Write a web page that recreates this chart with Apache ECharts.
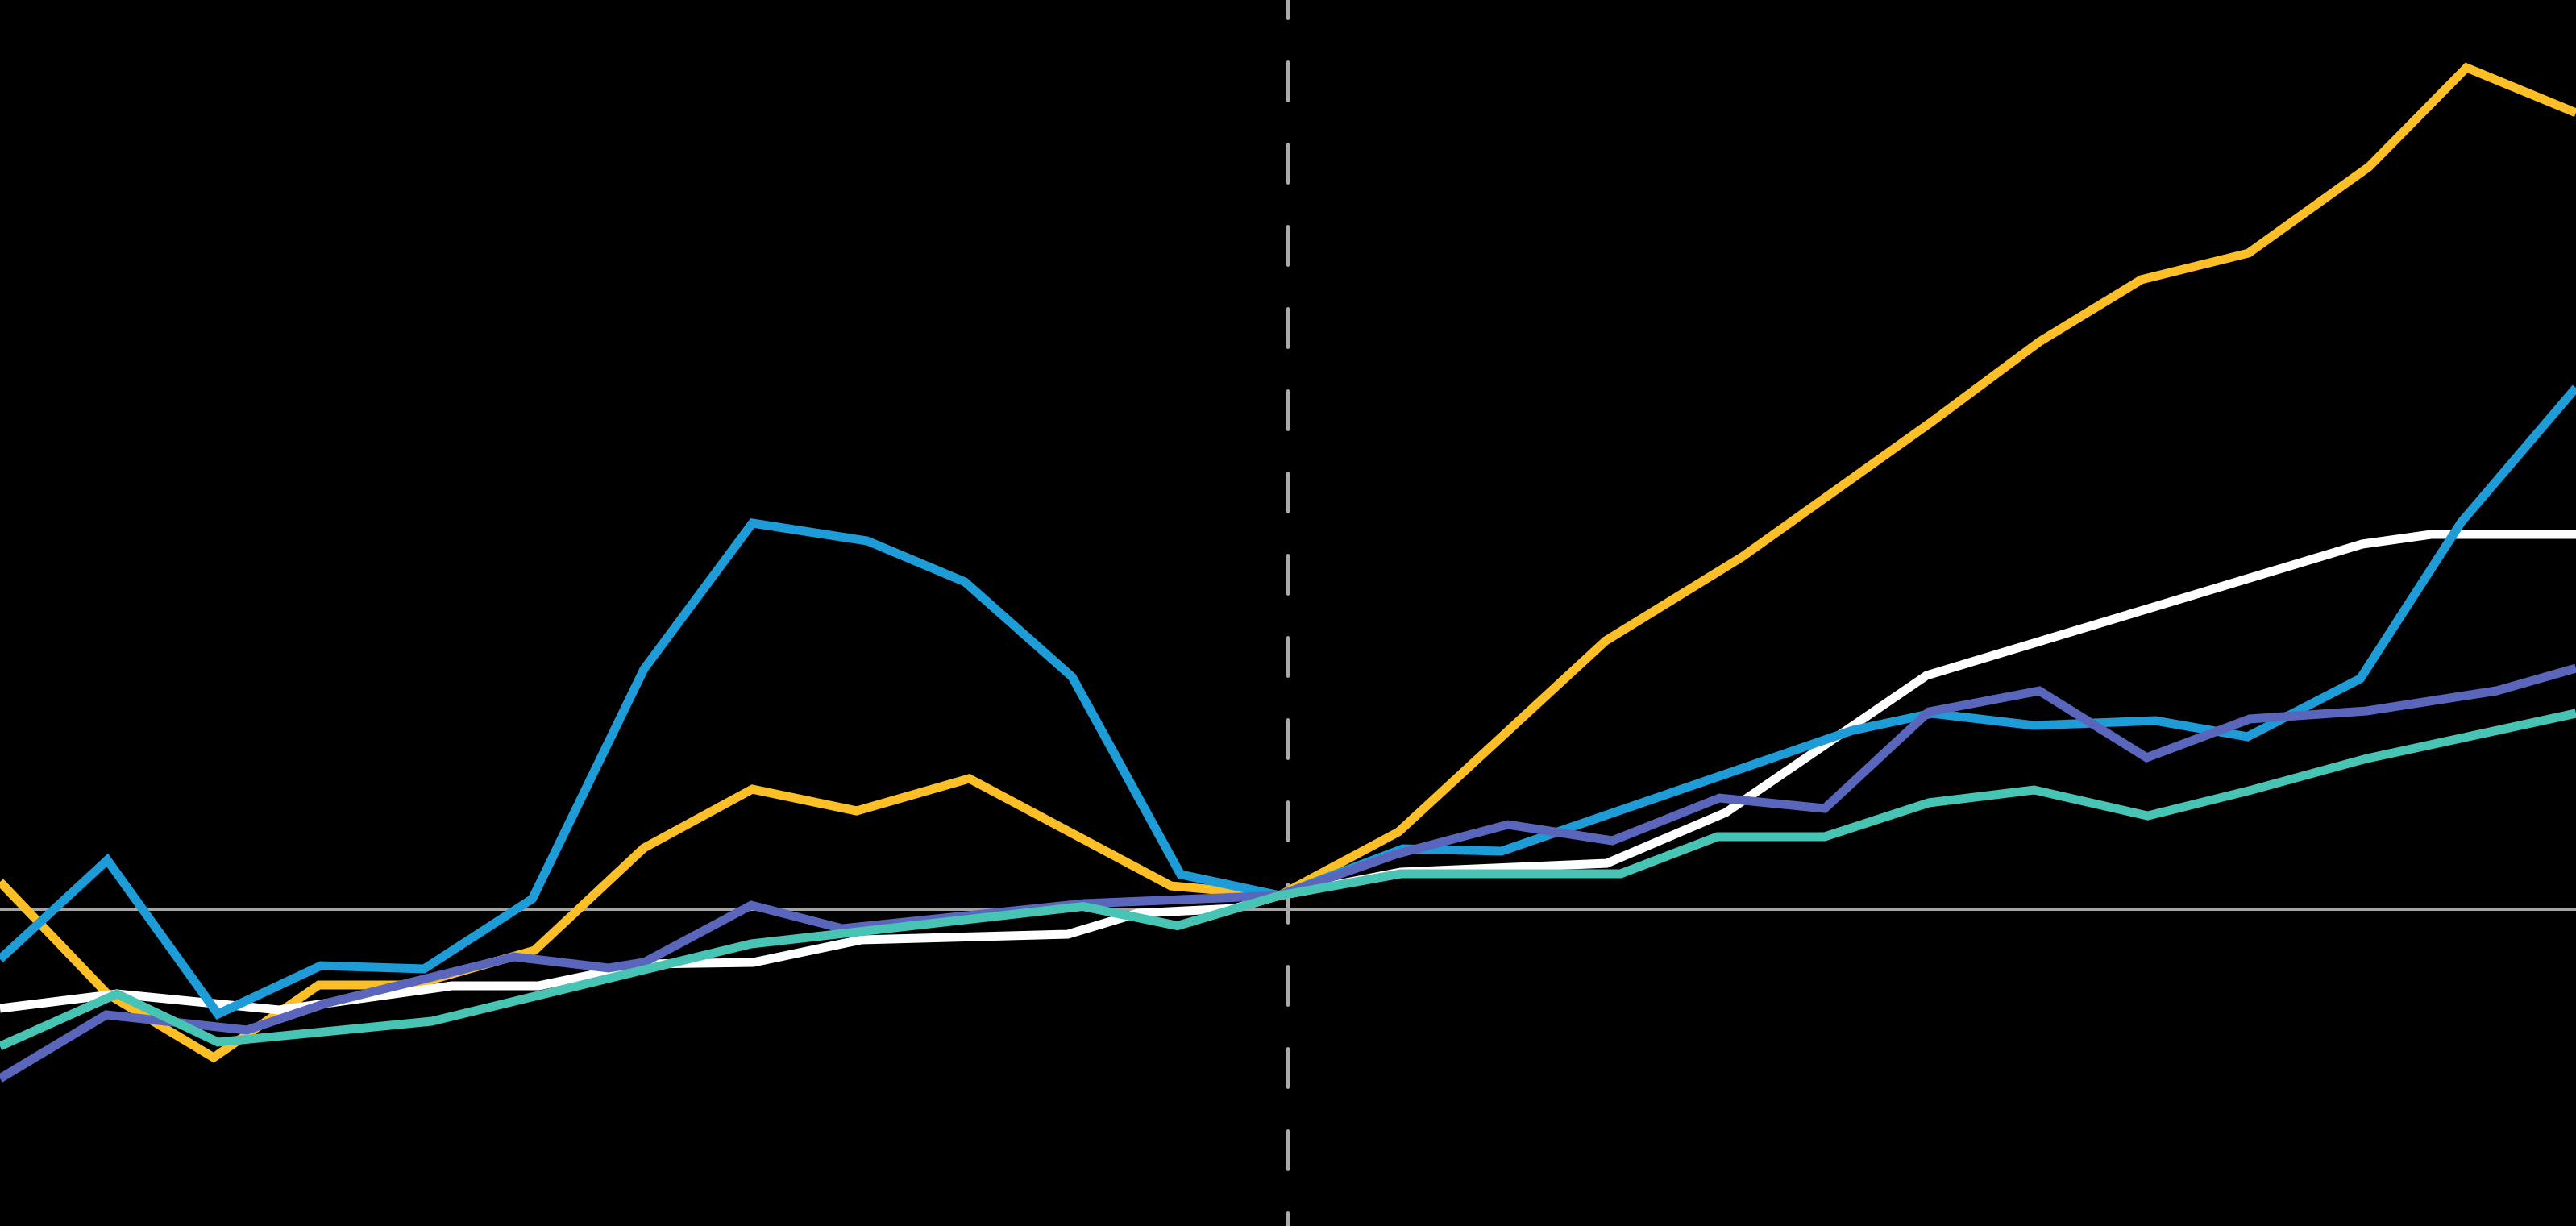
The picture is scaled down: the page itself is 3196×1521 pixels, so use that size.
<!DOCTYPE html>
<html>
<head>
<meta charset="utf-8">
<script src="https://cdn.jsdelivr.net/npm/echarts@6/dist/echarts.min.js"></script>
<style>
html,body{margin:0;padding:0;background:#000;}
#chart{width:3196px;height:1521px;}
</style>
</head>
<body>
<div id="chart"></div>
<script>
// x = months relative to the reference date (0 = dashed line)
var yellowX = [-12, -11.0, -10.01, -9.03, -8.15, -7.02, -6.0, -4.99, -4.02, -2.97, -1.09, -0.08, 1.03, 2.96, 4.23, 6.0, 7.0, 7.95, 8.95, 10.07, 10.98, 12];
var yellowY = [3.4, -10.5, -18.4, -9.4, -9.4, -5.1, 7.6, 14.9, 12.2, 16.2, 2.9, 1.7, 9.6, 33.3, 43.7, 60.5, 70.4, 78.1, 81.4, 92.1, 104.4, 98.8];

var whiteX = [-12, -10.91, -9.4, -7.79, -6.98, -6.0, -4.98, -3.98, -2.05, -1.4, -0.5, -0.08, 1.05, 2.97, 4.08, 5.95, 10.01, 10.65, 12];
var whiteY = [-12.3, -10.5, -12.5, -9.5, -9.5, -6.8, -6.6, -3.8, -3.1, -0.5, 0.1, 1.7, 4.6, 5.7, 12.0, 29.0, 45.3, 46.5, 46.5];

var blueX = [-12, -11.0, -9.97, -9.01, -8.05, -7.04, -6.0, -4.99, -3.92, -3.01, -2.01, -1.0, -0.08, 1.07, 1.99, 5.26, 6.0, 6.95, 8.08, 8.94, 9.99, 10.93, 12];
var blueY = [-6.2, 6.1, -13.0, -7.0, -7.4, 1.3, 29.8, 47.9, 45.7, 40.6, 28.8, 4.3, 1.7, 7.5, 7.2, 22.2, 24.3, 22.8, 23.4, 21.4, 28.6, 48.0, 64.7];

var purpleX = [-12, -11.01, -9.7, -8.97, -7.21, -6.33, -6.0, -5.0, -4.15, -1.9, -0.08, 1.0, 2.05, 3.02, 4.02, 5.0, 5.97, 7.0, 8.0, 8.96, 10.05, 11.26, 12];
var purpleY = [-21.0, -13.1, -15.0, -11.7, -5.9, -7.3, -6.6, 0.5, -2.4, 0.7, 1.7, 6.8, 10.5, 8.5, 13.8, 12.5, 24.5, 27.1, 18.8, 23.6, 24.6, 27.1, 29.9];

var tealX = [-12, -10.91, -9.97, -7.98, -5.0, -1.91, -1.03, -0.08, 1.05, 3.1, 4.0, 5.0, 5.97, 6.95, 8.01, 8.98, 10.05, 12];
var tealY = [-17.0, -10.5, -16.5, -13.9, -4.3, 0.35, -2.05, 1.7, 4.4, 4.4, 9.0, 9.0, 13.2, 14.8, 11.6, 14.8, 18.7, 24.3];

function pairs(xs, ys) { return xs.map(function (x, i) { return [x, ys[i]]; }); }

var seriesDefs = [
  { name: 'Yellow', color: '#fcbf27', xs: yellowX, ys: yellowY },
  { name: 'White',  color: '#ffffff', xs: whiteX,  ys: whiteY },
  { name: 'Blue',   color: '#1e9cd8', xs: blueX,   ys: blueY },
  { name: 'Purple', color: '#5a66bc', xs: purpleX, ys: purpleY },
  { name: 'Teal',   color: '#48c4b5', xs: tealX,   ys: tealY }
];

var chart = echarts.init(document.getElementById('chart'), null, { renderer: 'canvas' });
chart.setOption({
  backgroundColor: '#000000',
  animation: false,
  grid: { left: 0, right: 0, top: 0, bottom: 0, containLabel: false },
  xAxis: {
    type: 'value', min: -12, max: 12,
    axisLine: { show: true, onZero: true, lineStyle: { color: '#a4a4a4', width: 4 } },
    axisTick: { show: false }, axisLabel: { show: false }, splitLine: { show: false }
  },
  yAxis: {
    type: 'value', min: -39.3, max: 112.8,
    axisLine: { show: true, onZero: true, lineStyle: { color: '#ababab', width: 4, type: [48, 54], dashOffset: 32, cap: 'round' } },
    axisTick: { show: false }, axisLabel: { show: false }, splitLine: { show: false }
  },
  series: seriesDefs.map(function (s) {
    return {
      name: s.name,
      type: 'line',
      data: pairs(s.xs, s.ys),
      showSymbol: false,
      symbol: 'none',
      lineStyle: { color: s.color, width: 11, join: 'miter', cap: 'butt' },
      itemStyle: { color: s.color }
    };
  })
});
</script>
</body>
</html>
